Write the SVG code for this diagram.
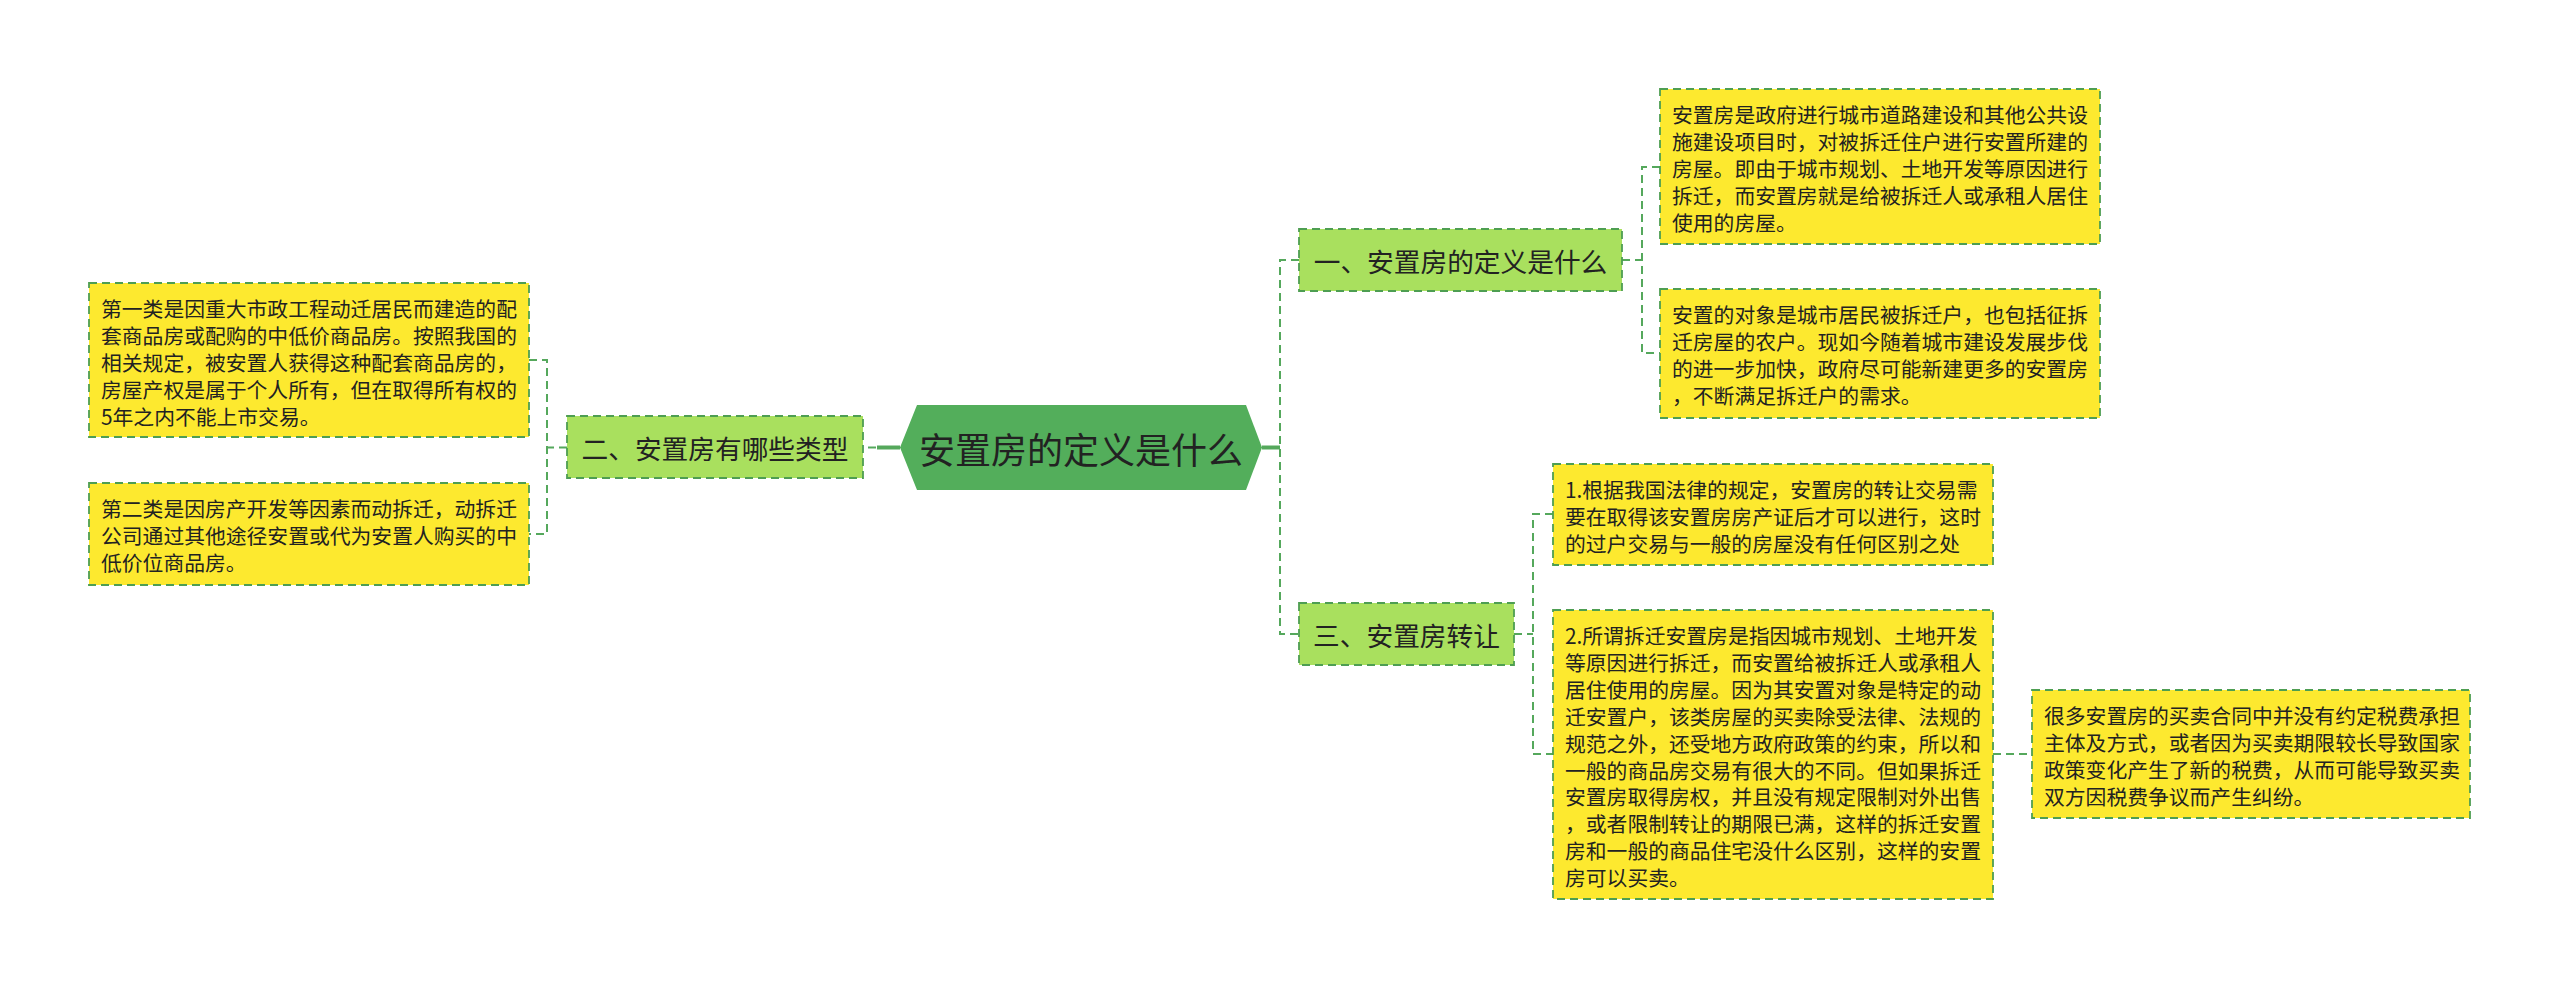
<svg xmlns="http://www.w3.org/2000/svg" width="2560" height="989" viewBox="0 0 2560 989">
<style>
  .root { fill: #53ae5b; }
  .topic { fill: #a9e05e; stroke: #4e9e52; stroke-width: 1.8; stroke-dasharray: 8 5; }
  .leaf { fill: #fde92f; stroke: #4e9e52; stroke-width: 1.8; stroke-dasharray: 8 5; }
  .conn { fill: none; stroke: #55a85c; stroke-width: 2; stroke-dasharray: 8 5; }
  .solid { fill: none; stroke: #55a85c; stroke-width: 4; }
  text { font-family: "Noto Sans CJK SC", "Noto Sans", sans-serif; fill: #222; dominant-baseline: central; }
  .rt { font-size: 36px; text-anchor: middle; }
  .tt { font-size: 26.7px; text-anchor: middle; }
  .lt { font-size: 20.8px; }
</style>
<rect width="2560" height="989" fill="#ffffff"/>

<g id="connectors">
  <path class="solid" d="M1262 447.5 H1280"/>
  <path class="conn" d="M1299 260 H1280 V634 H1299"/>
  <path class="conn" d="M1622 260 H1642"/>
  <path class="conn" d="M1660 167 H1642 V353 H1660"/>
  <path class="conn" d="M1514 634 H1533"/>
  <path class="conn" d="M1553 514 H1533 V754 H1553"/>
  <path class="conn" d="M1993 754 H2032"/>
  <path class="solid" d="M900 447.5 H877"/>
  <path class="conn" d="M876 447.5 H863"/>
  <path class="conn" d="M567 447.5 H547"/>
  <path class="conn" d="M529 360 H547 V534 H529"/>
</g>

<g id="root">
  <polygon class="root" points="900,447.5 917,405 1246,405 1262,447.5 1246,490 917,490"/>
  <text class="rt" x="1081" y="447.5">安置房的定义是什么</text>
</g>

<g id="topic1">
  <rect class="topic" x="1299" y="229" width="323" height="62"/>
  <text class="tt" x="1460.5" y="260">一、安置房的定义是什么</text>
</g>

<g id="topic2">
  <rect class="topic" x="567" y="416" width="296" height="62"/>
  <text class="tt" x="715" y="447">二、安置房有哪些类型</text>
</g>

<g id="topic3">
  <rect class="topic" x="1299" y="603" width="215" height="62"/>
  <text class="tt" x="1406.5" y="634">三、安置房转让</text>
</g>

<g id="leafA">
  <rect class="leaf" x="1660" y="89" width="440" height="155"/>
  <text class="lt">
    <tspan x="1672" y="114">安置房是政府进行城市道路建设和其他公共设</tspan>
    <tspan x="1672" y="140.9">施建设项目时，对被拆迁住户进行安置所建的</tspan>
    <tspan x="1672" y="167.8">房屋。即由于城市规划、土地开发等原因进行</tspan>
    <tspan x="1672" y="194.7">拆迁，而安置房就是给被拆迁人或承租人居住</tspan>
    <tspan x="1672" y="221.6">使用的房屋。</tspan>
  </text>
</g>

<g id="leafB">
  <rect class="leaf" x="1660" y="289" width="440" height="129"/>
  <text class="lt">
    <tspan x="1672" y="314">安置的对象是城市居民被拆迁户，也包括征拆</tspan>
    <tspan x="1672" y="340.9">迁房屋的农户。现如今随着城市建设发展步伐</tspan>
    <tspan x="1672" y="367.8">的进一步加快，政府尽可能新建更多的安置房</tspan>
    <tspan x="1672" y="394.7">，不断满足拆迁户的需求。</tspan>
  </text>
</g>

<g id="leafC">
  <rect class="leaf" x="89" y="283" width="440" height="154"/>
  <text class="lt">
    <tspan x="101" y="308">第一类是因重大市政工程动迁居民而建造的配</tspan>
    <tspan x="101" y="334.9">套商品房或配购的中低价商品房。按照我国的</tspan>
    <tspan x="101" y="361.8">相关规定，被安置人获得这种配套商品房的，</tspan>
    <tspan x="101" y="388.7">房屋产权是属于个人所有，但在取得所有权的</tspan>
    <tspan x="101" y="415.6">5年之内不能上市交易。</tspan>
  </text>
</g>

<g id="leafD">
  <rect class="leaf" x="89" y="483" width="440" height="102"/>
  <text class="lt">
    <tspan x="101" y="508">第二类是因房产开发等因素而动拆迁，动拆迁</tspan>
    <tspan x="101" y="534.9">公司通过其他途径安置或代为安置人购买的中</tspan>
    <tspan x="101" y="561.8">低价位商品房。</tspan>
  </text>
</g>

<g id="leafE">
  <rect class="leaf" x="1553" y="464" width="440" height="101"/>
  <text class="lt">
    <tspan x="1565" y="489">1.根据我国法律的规定，安置房的转让交易需</tspan>
    <tspan x="1565" y="515.9">要在取得该安置房房产证后才可以进行，这时</tspan>
    <tspan x="1565" y="542.8">的过户交易与一般的房屋没有任何区别之处</tspan>
  </text>
</g>

<g id="leafF">
  <rect class="leaf" x="1553" y="610" width="440" height="289"/>
  <text class="lt">
    <tspan x="1565" y="635">2.所谓拆迁安置房是指因城市规划、土地开发</tspan>
    <tspan x="1565" y="661.9">等原因进行拆迁，而安置给被拆迁人或承租人</tspan>
    <tspan x="1565" y="688.8">居住使用的房屋。因为其安置对象是特定的动</tspan>
    <tspan x="1565" y="715.7">迁安置户，该类房屋的买卖除受法律、法规的</tspan>
    <tspan x="1565" y="742.6">规范之外，还受地方政府政策的约束，所以和</tspan>
    <tspan x="1565" y="769.5">一般的商品房交易有很大的不同。但如果拆迁</tspan>
    <tspan x="1565" y="796.4">安置房取得房权，并且没有规定限制对外出售</tspan>
    <tspan x="1565" y="823.3">，或者限制转让的期限已满，这样的拆迁安置</tspan>
    <tspan x="1565" y="850.2">房和一般的商品住宅没什么区别，这样的安置</tspan>
    <tspan x="1565" y="877.1">房可以买卖。</tspan>
  </text>
</g>

<g id="leafG">
  <rect class="leaf" x="2032" y="690" width="438" height="128"/>
  <text class="lt">
    <tspan x="2044" y="715">很多安置房的买卖合同中并没有约定税费承担</tspan>
    <tspan x="2044" y="741.9">主体及方式，或者因为买卖期限较长导致国家</tspan>
    <tspan x="2044" y="768.8">政策变化产生了新的税费，从而可能导致买卖</tspan>
    <tspan x="2044" y="795.7">双方因税费争议而产生纠纷。</tspan>
  </text>
</g>
</svg>
